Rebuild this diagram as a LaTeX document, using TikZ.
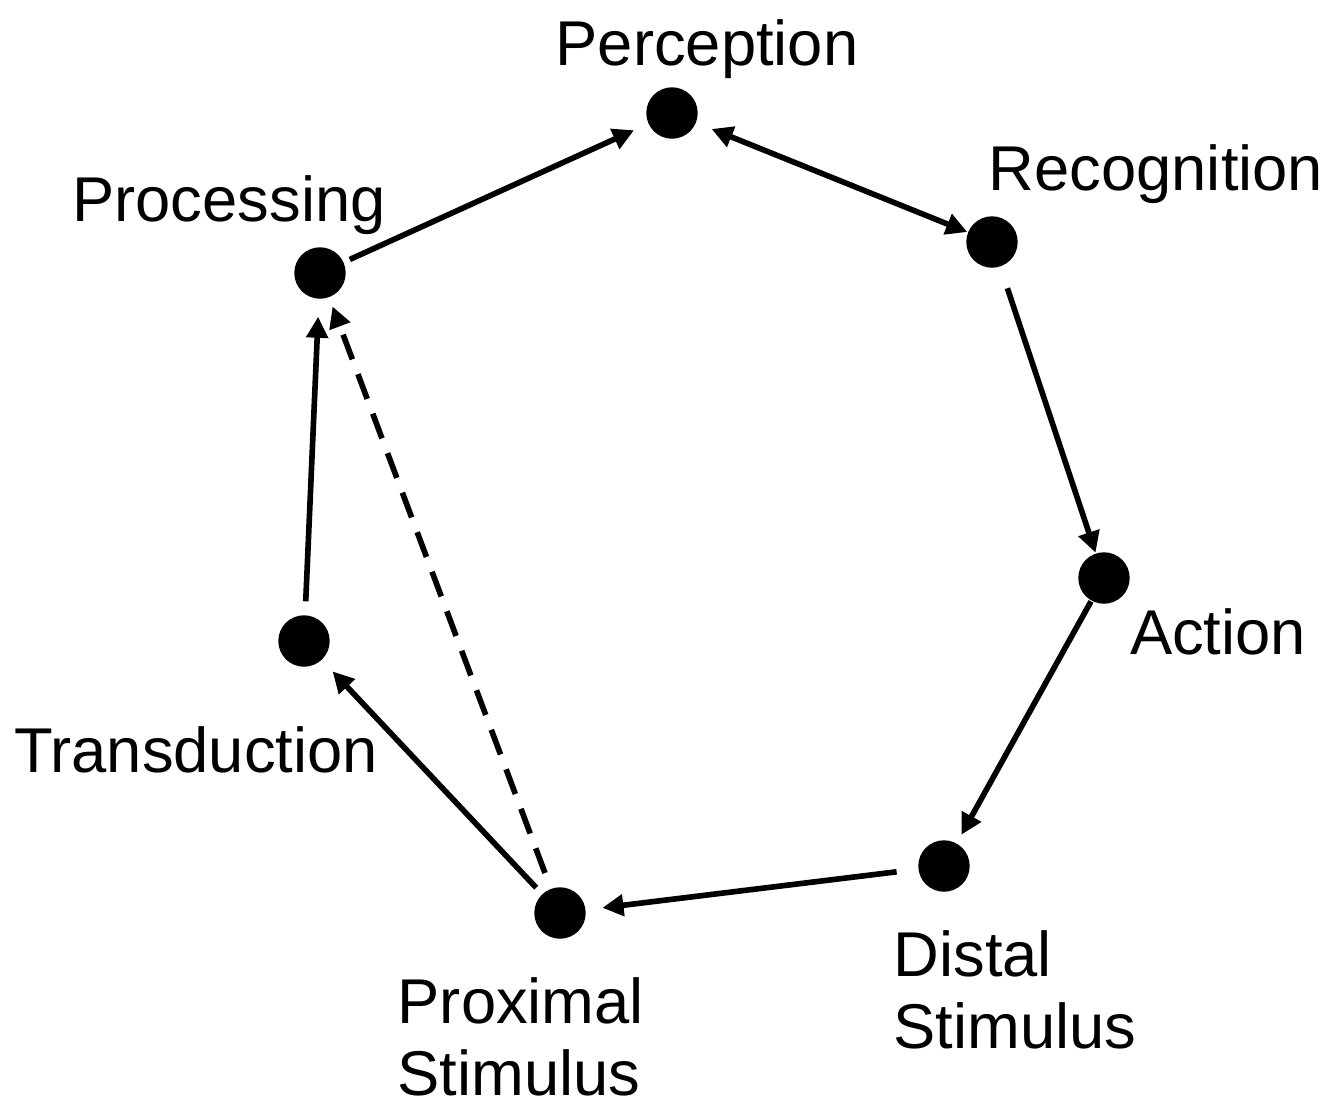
\documentclass[tikz,border=0pt]{standalone}
\usepackage{fontspec}
\setmainfont{Liberation Sans}
\usetikzlibrary{arrows.meta}
\tikzset{stage/.style = {draw, circle, fill, inner sep=0pt, minimum size=0.5cm}}
\tikzset{stagetext/.style = {inner sep=0pt, font=\fontsize{18}{20.5}\selectfont}}
\tikzset{flow/.style = {-{Triangle[length=6pt, width=6pt]}, line width=1.6pt}}

\begin{document}
\begin{tikzpicture}[x=0.01cm, y=-0.01cm]
  \useasboundingbox (0,0) rectangle (1338,1102);

  \node [stage] (perc) at (672,113) {};
  \node [stage] (reco) at (992,242) {};
  \node [stage] (act) at (1104,578) {};
  \node [stage] (dist) at (944,866) {};
  \node [stage] (prox) at (560,913) {};
  \node [stage] (trans) at (304,641) {};
  \node [stage] (proc) at (320,273) {};

  \node [stagetext, anchor=base] (perc-t) at (707,65) {Perception};
  \node [stagetext, anchor=base] (reco-t) at (1156,190) {Recognition};
  \node [stagetext, anchor=base] (act-t) at (1218,654) {Action};
  \node [stagetext, anchor=north west, align=left] (dist-t) at (893,930) {Distal\\Stimulus};
  \node [stagetext, anchor=north west, align=left] (prox-t) at (397,977) {Proximal\\Stimulus};
  \node [stagetext, anchor=base] (trans-t) at (196,772) {Transduction};
  \node [stagetext, anchor=base] (proc-t) at (229,221) {Processing};

  \draw [flow, shorten <=0.07cm, shorten >=0.16cm] (proc) -- (perc);
  \draw [flow, {Triangle[length=6pt, width=6pt]}-{Triangle[length=6pt, width=6pt]}, shorten <=0.17cm, shorten >=0.01cm] (perc) -- (reco);
  \draw [flow, shorten <=0.23cm, shorten >=0.01cm] (reco) -- (act);
  \draw [flow, shorten <=0.01cm, shorten >=0.10cm] (act) -- (dist);
  \draw [flow, shorten <=0.22cm, shorten >=0.17cm] (dist) -- (prox);
  \draw [flow, shorten <=0.09cm, shorten >=0.16cm] (prox) -- (trans);
  \draw [flow, shorten <=0.14cm, shorten >=0.18cm] (trans) -- (proc);
  \draw [flow, dash pattern=on 7.5pt off 4.5pt, shorten <=0.17cm, shorten >=0.10cm] (prox) -- (proc);
\end{tikzpicture}
\end{document}
